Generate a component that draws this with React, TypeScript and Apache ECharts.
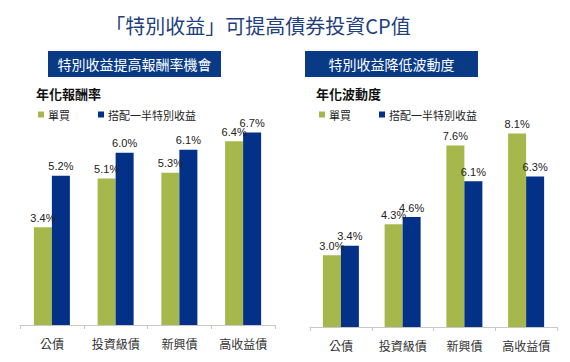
import React, { useEffect, useRef } from "react";
import * as echarts from "echarts";

const categories = ["公債", "投資級債", "新興債", "高收益債"];
const seriesNames = ["單買", "搭配一半特別收益"];
const returnSingle = [3.4, 5.1, 5.3, 6.4];
const returnMixed = [5.2, 6.0, 6.1, 6.7];
const volSingle = [3.0, 4.3, 7.6, 8.1];
const volMixed = [3.4, 4.6, 6.1, 6.3];

const GREEN = "#a6b84c";
const BLUE = "#023187";
const FONT = "'Liberation Sans', 'Noto Sans CJK TC', sans-serif";
const CJK = "'Noto Sans CJK TC', sans-serif";

export default function App() {
  const ref = useRef<HTMLDivElement>(null);
  useEffect(() => {
    if (!ref.current) return;
    const chart = echarts.init(ref.current, undefined, { renderer: "svg" });
    const label = {
      show: true,
      position: "top" as const,
      distance: 4,
      fontSize: 11,
      color: "#222",
      fontFamily: FONT,
      formatter: (p: any) => p.value.toFixed(1) + "%",
    };
    const xAxisBase = (gridIndex: number) => ({
      type: "category" as const,
      gridIndex,
      data: categories,
      axisLine: { lineStyle: { color: "#c8c8c8", width: 1 } },
      axisTick: { show: true, length: 4, lineStyle: { color: "#c8c8c8" } },
      axisLabel: { fontSize: 12, color: "#333", margin: 12, fontFamily: CJK, interval: 0 },
    });
    const yAxisBase = (gridIndex: number, max: number) => ({
      type: "value" as const,
      gridIndex,
      min: 0,
      max,
      show: false,
      splitLine: { show: false },
    });
    const legendBase = (left: number) => ({
      left,
      top: 104,
      itemWidth: 6,
      itemHeight: 6,
      itemGap: 28,
      icon: "rect",
      textStyle: { fontSize: 11, color: "#222", fontFamily: CJK, padding: [0, 0, 0, -1] },
      data: seriesNames,
      selectedMode: false,
    });
    chart.setOption({
      animation: false,
      backgroundColor: "#fff",
      grid: [
        { left: 20, right: 295, top: 124, bottom: 37 },
        { left: 310, right: 13, top: 112, bottom: 35 },
      ],
      legend: [legendBase(33), legendBase(314)],
      xAxis: [xAxisBase(0), xAxisBase(1)],
      yAxis: [yAxisBase(0, 7), yAxisBase(1, 9)],
      series: [
        { name: seriesNames[0], type: "bar", xAxisIndex: 0, yAxisIndex: 0, data: returnSingle, barWidth: 18, barGap: "0%", itemStyle: { color: GREEN }, label },
        { name: seriesNames[1], type: "bar", xAxisIndex: 0, yAxisIndex: 0, data: returnMixed, barWidth: 18, barGap: "0%", itemStyle: { color: BLUE }, label },
        { name: seriesNames[0], type: "bar", xAxisIndex: 1, yAxisIndex: 1, data: volSingle, barWidth: 18, barGap: "0%", itemStyle: { color: GREEN }, label },
        { name: seriesNames[1], type: "bar", xAxisIndex: 1, yAxisIndex: 1, data: volMixed, barWidth: 18, barGap: "0%", itemStyle: { color: BLUE }, label },
      ],
      graphic: [
        {
          type: "text",
          x: 258,
          y: 25,
          style: { text: "「特別收益」可提高債券投資CP值", fontSize: 20, fill: "#1f3f80", fontFamily: CJK, align: "center", verticalAlign: "middle" },
        },
        { type: "rect", shape: { x: 48, y: 51, width: 173, height: 26 }, style: { fill: "#083a86" } },
        {
          type: "text",
          x: 134.5,
          y: 64,
          style: { text: "特別收益提高報酬率機會", fontSize: 14, fill: "#fff", fontFamily: CJK, align: "center", verticalAlign: "middle" },
        },
        { type: "rect", shape: { x: 305, y: 51, width: 173, height: 26 }, style: { fill: "#083a86" } },
        {
          type: "text",
          x: 391.5,
          y: 64,
          style: { text: "特別收益降低波動度", fontSize: 14, fill: "#fff", fontFamily: CJK, align: "center", verticalAlign: "middle" },
        },
        {
          type: "text",
          x: 36,
          y: 93,
          style: { text: "年化報酬率", fontSize: 13, fontWeight: "bold", fill: "#111", fontFamily: CJK, verticalAlign: "middle" },
        },
        {
          type: "text",
          x: 316,
          y: 93,
          style: { text: "年化波動度", fontSize: 13, fontWeight: "bold", fill: "#111", fontFamily: CJK, verticalAlign: "middle" },
        },
      ],
    });
    return () => chart.dispose();
  }, []);
  return <div ref={ref} style={{ width: 570, height: 362, position: "absolute", left: 0, top: 0 }} />;
}
